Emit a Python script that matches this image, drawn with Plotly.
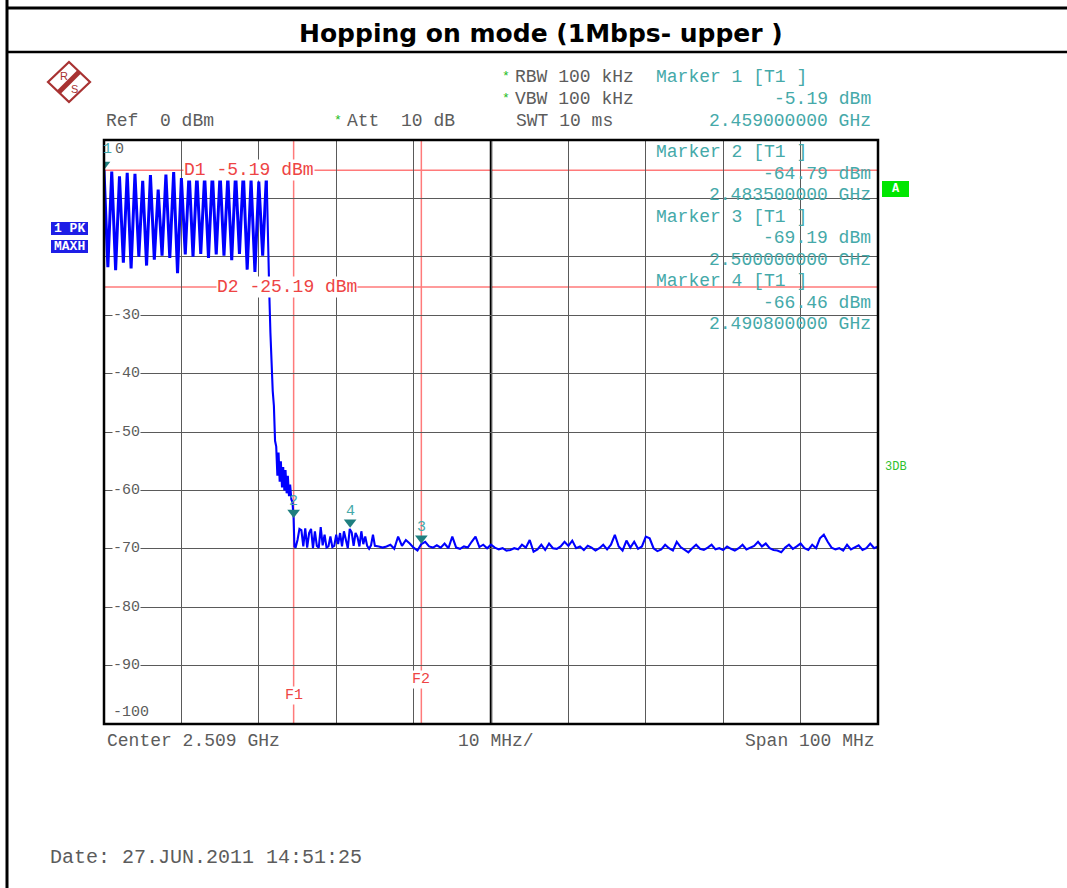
import numpy as np
import plotly.graph_objects as go

# ---------------- data ----------------
START_MHZ = 2459.0
STOP_MHZ = 2559.0

# hopping channels 2459..2480 MHz (max hold peaks) and valleys in between
hop_peak_dbm = [-5.19, -5.4, -6.2, -5.6, -5.8, -7.0, -6.0, -8.5, -5.9, -5.5, -6.5,
                -5.4, -5.8, -6.0, -5.5, -5.7, -6.2, -5.5, -5.4, -6.8, -7.1, -5.6]
hop_valley_dbm = [-21.8, -22.3, -21.0, -22.0, -20.0, -21.5, -20.5, -19.8, -20.2, -22.8,
                  -19.6, -20.0, -19.5, -20.2, -19.6, -19.8, -20.6, -19.5, -22.2, -22.6, -19.8]

# band-edge roll-off
edge_mhz = [2480.2, 2480.35, 2480.5, 2480.65, 2480.8, 2480.95, 2481.1, 2481.25, 2481.4,
            2481.55, 2481.7, 2481.85, 2482.0, 2482.15, 2482.3, 2482.45, 2482.6, 2482.75,
            2482.9, 2483.05, 2483.2, 2483.35, 2483.5, 2483.6]
edge_dbm = [-20.0, -26.0, -33.0, -39.0, -43.0, -45.5, -51.5, -52.5, -57.5,
            -53.5, -58.5, -55.0, -59.5, -56.0, -60.0, -56.5, -60.5, -57.5,
            -61.0, -59.0, -61.5, -62.0, -64.79, -69.6]

# noise floor 2483.75..2494.0 MHz, 0.25 MHz steps
noise_a_start, noise_a_step = 2483.75, 0.25
noise_a_dbm = [-69.8, -68.5, -66.6, -66.8, -69.6, -66.5, -69.8, -67.3, -66.6, -69.9,
               -67.0, -69.5, -69.8, -66.3, -69.4, -67.6, -69.8, -69.6, -67.9, -69.7,
               -69.5, -67.6, -69.2, -67.3, -69.6, -67.0, -68.8, -69.9, -66.6, -67.2,
               -69.5, -67.3, -68.0, -69.6, -67.0, -69.2, -67.9, -69.5, -70.0, -69.4,
               -67.6, -69.5]

# noise floor 2494.5..2559.0 MHz, 0.5 MHz steps
noise_b_start, noise_b_step = 2494.5, 0.5
noise_b_dbm = [-69.6, -69.8, -69.6, -69.3, -70.0, -67.9, -69.5, -68.5, -69.1, -69.8,
               -70.3, -69.2, -68.8, -69.6, -69.8, -69.4, -69.8, -69.1, -69.9, -67.9,
               -69.8, -70.0, -69.6, -69.8, -68.8, -67.9, -69.7, -69.3, -69.9, -69.3,
               -69.8, -70.1,
               -69.9, -70.3, -70.2, -69.9, -70.1, -69.3, -69.8, -68.5, -70.5, -70.1,
               -69.3, -70.2, -69.1, -69.9, -70.0, -69.6, -68.8, -69.5, -68.6, -69.9,
               -69.6, -70.2, -69.5, -69.8, -70.3, -69.9, -69.3, -70.1, -69.3, -67.6,
               -69.6, -70.3, -68.6, -69.8, -68.8, -70.0, -69.6, -67.9, -68.2, -69.9,
               -70.4, -70.1, -69.3, -69.9, -70.3, -68.8, -69.7, -70.2, -70.6, -69.9,
               -69.3, -70.0, -70.2, -69.8, -69.3, -70.1, -69.9, -70.2, -69.6, -70.0,
               -70.3, -69.9, -69.3, -70.1, -69.8, -69.5, -68.8, -69.6, -69.1, -69.9,
               -70.2, -70.3, -70.6, -69.8, -69.3, -70.0, -69.6, -69.1, -69.9, -70.2,
               -69.3, -69.9, -68.2, -67.6, -68.8, -69.8, -70.1, -69.9, -70.3, -69.3,
               -70.1, -69.8, -69.4, -70.2, -69.9, -69.1, -69.9, -69.6]

# markers
marker_ids = ["1", "2", "3", "4"]
marker_mhz = [2459.0, 2483.5, 2500.0, 2490.8]
marker_dbm = [-5.19, -64.79, -69.19, -66.46]
marker_freq_txt = ["2.459000000 GHz", "2.483500000 GHz", "2.500000000 GHz", "2.490800000 GHz"]
marker_lvl_txt = ["-5.19 dBm", "-64.79 dBm", "-69.19 dBm", "-66.46 dBm"]

d_lines_dbm = [-5.19, -25.19]
d_lines_txt = ["D1 -5.19 dBm", "D2 -25.19 dBm"]
f_lines_mhz = [2483.5, 2500.0]
f_lines_txt = ["F1", "F2"]

y_tick_vals = [-30, -40, -50, -60, -70, -80, -90]

# ---------------- build trace ----------------
hop_f, hop_v = [], []
for i, p in enumerate(hop_peak_dbm):
    hop_f.append(START_MHZ + i)
    hop_v.append(p)
    if i < len(hop_valley_dbm):
        hop_f.append(START_MHZ + i + 0.5)
        hop_v.append(hop_valley_dbm[i])

fa = list(noise_a_start + noise_a_step * np.arange(len(noise_a_dbm)))
fb = list(noise_b_start + noise_b_step * np.arange(len(noise_b_dbm)))
rest_f = [hop_f[-1]] + edge_mhz + fa + fb
rest_v = [hop_v[-1]] + edge_dbm + noise_a_dbm + noise_b_dbm

# ---------------- geometry helpers ----------------
L, R, T, B = 104, 878, 140, 724
W, H = R - L, B - T
FIG_W, FIG_H = 1067, 888


def px(x):
    return (x - L) / W


def py(y):
    return (B - y) / H


MONO = "Liberation Mono, Courier New, monospace"
SANS = "Liberation Sans, Arial, sans-serif"
TITLE_FONT = "DejaVu Sans, Arial, sans-serif"
GRAY = "#5c5c5c"
TEAL = "#45a9a9"
TEAL_DARK = "#1f7f7f"
RED = "#ee4444"
RED_LINE = "#ff7a7a"
LOGO = "#a83232"

annotations = []
shapes = []


def txt(x, y, s, size=18, color=GRAY, anchor="left", family=MONO, bg=None, bold=False):
    s = s.replace(" ", "\u00a0")
    if bold:
        s = "<b>" + s + "</b>"
    a = dict(x=px(x), y=py(y), xref="paper", yref="paper", text=s, showarrow=False,
             xanchor=anchor, yanchor="middle", font=dict(size=size, color=color, family=family),
             borderpad=0)
    if bg:
        a["bgcolor"] = bg
    annotations.append(a)


def pline(x0, y0, x1, y1, color="black", width=1, layer="above"):
    shapes.append(dict(type="line", xref="paper", yref="paper", x0=px(x0), y0=py(y0),
                       x1=px(x1), y1=py(y1), line=dict(color=color, width=width), layer=layer))


fig = go.Figure()

fig.add_trace(go.Scatter(x=hop_f, y=hop_v, mode="lines",
                         line=dict(color="#0000ff", width=3), hoverinfo="skip", showlegend=False))
fig.add_trace(go.Scatter(x=rest_f, y=rest_v, mode="lines",
                         line=dict(color="#0000ff", width=2.1), hoverinfo="skip", showlegend=False))

# marker triangles
fig.add_trace(go.Scatter(x=marker_mhz, y=[v + 1.0 for v in marker_dbm], mode="markers",
                         marker=dict(symbol="triangle-down", size=11, color=TEAL_DARK),
                         hoverinfo="skip", showlegend=False))

# ---------------- page frame ----------------
pline(7, 8, FIG_W, 8, "black", 3)
pline(7, 0, 7, FIG_H, "black", 3)
pline(7, 52, FIG_W, 52, "black", 2.5)
txt(541, 33, "Hopping on mode (1Mbps- upper )", size=25, color="black", anchor="center",
    family=TITLE_FONT, bold=True)

# R&S logo
cx, cy, hw, hh = 69, 82, 21, 20
shapes.append(dict(type="path", xref="paper", yref="paper",
                   path="M %f %f L %f %f L %f %f L %f %f Z" % (px(cx), py(cy - hh), px(cx + hw), py(cy),
                                                             px(cx), py(cy + hh), px(cx - hw), py(cy)),
                   line=dict(color=LOGO, width=2.2), fillcolor="rgba(0,0,0,0)"))
pline(cx + 10, cy - 10, cx - 10, cy + 10, LOGO, 5)
txt(cx - 5, cy - 6, "R", size=11, color=LOGO, anchor="center", family=SANS)
txt(cx + 5, cy + 7, "S", size=11, color=LOGO, anchor="center", family=SANS)

# header text
txt(105, 121, "Ref  0 dBm")
txt(506, 76, "*", size=13, color="#22bb22", anchor="center")
txt(506, 98, "*", size=13, color="#22bb22", anchor="center")
txt(338, 120, "*", size=13, color="#22bb22", anchor="center")
txt(346, 121, "Att  10 dB")
txt(514, 77, "RBW 100 kHz")
txt(514, 99, "VBW 100 kHz")
txt(515, 121, "SWT 10 ms")
txt(655, 77, "Marker 1 [T1 ]", color=TEAL)
txt(872, 99, marker_lvl_txt[0], color=TEAL, anchor="right")
txt(872, 121, marker_freq_txt[0], color=TEAL, anchor="right")

# marker info inside the grid
for k in range(1, 4):
    base = 152 + (k - 1) * 64.5
    txt(655, base, "Marker %s [T1 ]" % marker_ids[k], color=TEAL)
    txt(872, base + 21.5, marker_lvl_txt[k], color=TEAL, anchor="right")
    txt(872, base + 43, marker_freq_txt[k], color=TEAL, anchor="right")

# side boxes
shapes.append(dict(type="rect", xref="paper", yref="paper", x0=px(51), x1=px(88), y0=py(222), y1=py(235),
                   fillcolor="#1e1ee6", line=dict(width=0)))
shapes.append(dict(type="rect", xref="paper", yref="paper", x0=px(51), x1=px(88), y0=py(240), y1=py(253),
                   fillcolor="#1e1ee6", line=dict(width=0)))
txt(69.5, 228.5, "1 PK", size=13, color="white", anchor="center", bold=True)
txt(69.5, 246.5, "MAXH", size=13, color="white", anchor="center", bold=True)
shapes.append(dict(type="rect", xref="paper", yref="paper", x0=px(882), x1=px(909), y0=py(181), y1=py(197),
                   fillcolor="#00e600", line=dict(width=0)))
txt(895.5, 189, "A", size=12, color="white", anchor="center", bold=True)
txt(896, 467, "3DB", size=12, color="#2fbf2f", anchor="center")

# y labels inside the grid
for v in y_tick_vals:
    txt(112, T + (-v) * H / 100.0, str(v), size=15, color=GRAY, bg="white")
txt(112, 712, "-100", size=15, color=GRAY, bg="white")
txt(114, 150, "0", size=15, color=GRAY)

# D lines
d_x = [183, 216]
for v, s, xs in zip(d_lines_dbm, d_lines_txt, d_x):
    shapes.append(dict(type="line", xref="paper", yref="y", x0=0, x1=1, y0=v, y1=v,
                       line=dict(color=RED_LINE, width=1.5), layer="between"))
    txt(xs, T + (-v) * H / 100.0, s, color=RED, bg="white")

# F lines
f_y = [695, 679]
for f, s, yy in zip(f_lines_mhz, f_lines_txt, f_y):
    shapes.append(dict(type="line", xref="x", yref="paper", x0=f, x1=f, y0=0, y1=1,
                       line=dict(color=RED_LINE, width=1.5), layer="between"))
    xx = L + (f - START_MHZ) * W / 100.0
    txt(xx, yy, s, size=15, color=RED, anchor="center", bg="white")

# center line & frame
shapes.append(dict(type="line", xref="x", yref="paper", x0=2509, x1=2509, y0=0, y1=1,
                   line=dict(color="black", width=2.5), layer="between"))
shapes.append(dict(type="rect", xref="paper", yref="paper", x0=0, x1=1, y0=0, y1=1,
                   line=dict(color="black", width=2.5), fillcolor="rgba(0,0,0,0)"))

# marker numbers
for mid, f, v in zip(marker_ids, marker_mhz, marker_dbm):
    xx = L + (f - START_MHZ) * W / 100.0
    yy = T + (-v) * H / 100.0
    if mid == "1":
        txt(xx + 3, 150, mid, size=15, color=TEAL, anchor="center")
    else:
        txt(xx, yy - 17, mid, size=15, color=TEAL, anchor="center")

# footer
txt(106, 741, "Center 2.509 GHz")
txt(457, 741, "10 MHz/")
txt(876, 741, "Span 100 MHz", anchor="right")
txt(49, 857, "Date: 27.JUN.2011 14:51:25", size=20)

fig.update_layout(
    width=FIG_W, height=FIG_H, autosize=False,
    margin=dict(l=L, r=FIG_W - R, t=T, b=FIG_H - B, pad=0),
    paper_bgcolor="white", plot_bgcolor="white",
    showlegend=False,
    xaxis=dict(range=[START_MHZ, STOP_MHZ], tick0=START_MHZ, dtick=10, showgrid=True,
               gridcolor="#5a5a5a", gridwidth=1.3, zeroline=False, showticklabels=False,
               ticks="", showline=False, fixedrange=True),
    yaxis=dict(range=[-100, 0], tick0=0, dtick=10, showgrid=True,
               gridcolor="#5a5a5a", gridwidth=1.3, zeroline=False, showticklabels=False,
               ticks="", showline=False, fixedrange=True),
    annotations=annotations, shapes=shapes,
)

fig.write_html("out.html", config={"displayModeBar": False},
               post_script="document.body.style.margin='0';document.body.style.padding='0';")
